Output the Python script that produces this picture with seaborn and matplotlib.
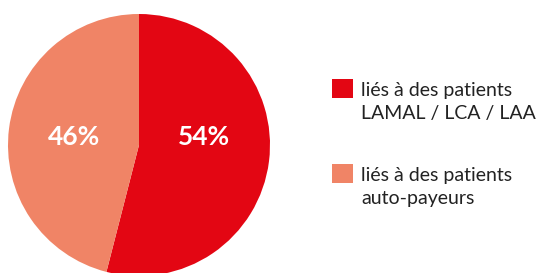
import matplotlib
matplotlib.use("Agg")
import matplotlib.pyplot as plt
import matplotlib.patches as mpatches
import seaborn as sns

# data
labels = ["liés à des patients\nLAMAL / LCA / LAA", "liés à des patients\nauto-payeurs"]
shares = [54, 46]
colors = ["#E30613", "#F08466"]

sns.set_theme(style="white")
plt.rcParams["font.family"] = ["Lato", "DejaVu Sans"]

fig = plt.figure(figsize=(5.44, 2.73), dpi=100)
ax = fig.add_axes([8 / 544, -3 / 273, 262 / 544, 262 / 273])

wedges, texts, autotexts = ax.pie(
    shares, colors=colors, startangle=90, counterclock=False,
    autopct="%d%%", pctdistance=0.5,
    textprops=dict(color="white", fontsize=19, fontweight="bold"),
    wedgeprops=dict(linewidth=0),
)
for w in wedges:
    w.set_clip_on(False)
# both percentages sit on the same line
for t in autotexts:
    t.set_y(0.06)
    t.set_va("center")
ax.set_xlim(-1, 1)
ax.set_ylim(-1, 1)
ax.set_aspect("equal")
ax.axis("off")

fs = 14
handles = [mpatches.Patch(color=c, linewidth=0) for c in colors]
leg = fig.legend(handles, labels, loc="upper left", bbox_to_anchor=(314 / 544, 1 - 64 / 273),
                 frameon=False, fontsize=fs, handlelength=1.08, handleheight=1.08,
                 handletextpad=0.45, labelspacing=2.3, labelcolor="#222222")
for t in leg.get_texts():
    t.set_linespacing(1.45)
# square next to the first line of each label
for h in leg.legend_handles:
    h.set_y(h.get_y() + 0.5 * 1.45 * fs * 0.95)

fig.savefig("out.png", dpi=100)
